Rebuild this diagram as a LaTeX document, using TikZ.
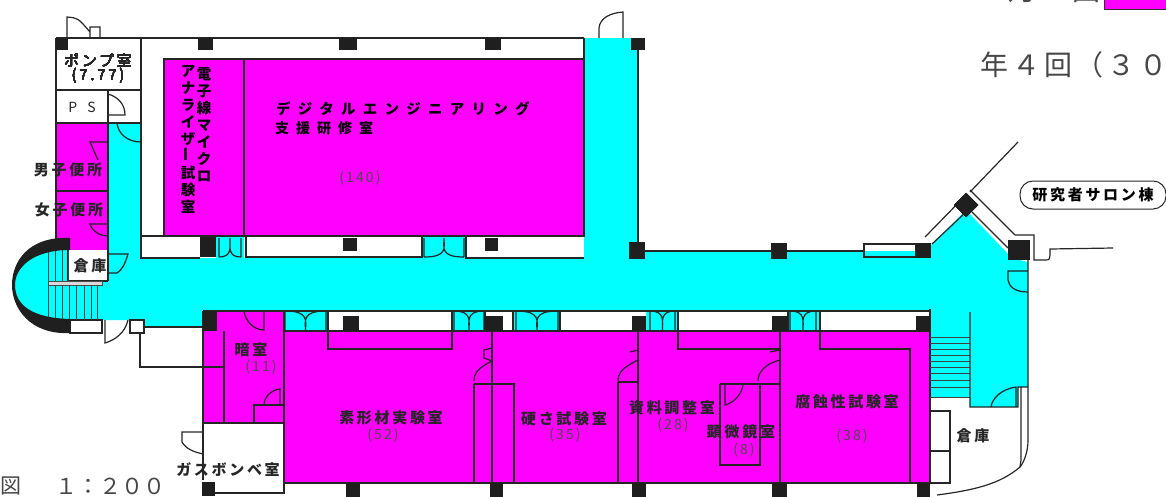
\documentclass[tikz,border=0pt]{standalone}
\usepackage{fontspec}
\setmainfont{Noto Sans CJK JP}
\newfontfamily\jpwide[LetterSpace=50]{Noto Sans CJK JP}
\newfontfamily\jpmid[LetterSpace=18]{Noto Sans CJK JP}
\newfontfamily\jpsemi[LetterSpace=15]{Noto Sans CJK JP}
\newfontfamily\jpkai[LetterSpace=14]{Noto Sans CJK JP}
\usetikzlibrary{calc}
\definecolor{kenshu}{RGB}{255,0,255}
\definecolor{rouka}{RGB}{0,255,255}
\tikzset{
    wall/.style={draw=black!85,line width=1.2pt},
    heya/.style={inner sep=0pt,font=\fontsize{15}{15}\selectfont\bfseries\jpmid,text=black!85},
    menseki/.style={inner sep=0pt,font=\fontsize{14}{15}\selectfont\jpsemi,text=black!70},
    tate/.style={inner sep=0pt,align=center,font=\fontsize{14.5}{17}\selectfont\bfseries},
    kaisu/.style={inner sep=0pt,anchor=west,font=\fontsize{28}{30}\selectfont\jpkai,text=black!72}
}
\NewDocumentCommand{\hashira}{m m m m}{ % x1, y1, x2, y2
    \fill[black!88] (#1,#2) rectangle (#3,#4);
}
\NewDocumentCommand{\ryobiraki}{m m m m}{ % x links, x rechts, y deur, y muur
    \coordinate (L) at (#1,#3);
    \coordinate (R) at (#2,#3);
    \coordinate (K) at ($(#1,#4)!.5!(#2,#4)$);
    \draw[wall] (L) -- (#1,#4)
        (R) -- (#2,#4)
        (L) .. controls ($(L)!.6!(R)$) and ($(K)!.5!(K|-L)$) .. (K)
        (R) .. controls ($(R)!.6!(L)$) and ($(K)!.5!(K|-R)$) .. (K);
}
\begin{document}
\begin{tikzpicture}[x=1pt,y=-1pt]
    \useasboundingbox (0,0) rectangle (1166,496);
    % corridor
    \fill[rouka] (108,123) -- (141,123) -- (141,258) -- (584,258) -- (584,38) -- (638,38)
        -- (638,251) -- (925,251) -- (966,210) -- (1012,258) -- (1028,262) -- (1028,387)
        -- (1018,387) -- (1018,407) -- (970,407) -- (970,397) -- (930,397) -- (930,331)
        -- (285,331) -- (285,311) -- (203,311) -- (203,327) -- (144,327) -- (144,320)
        -- (70,320) .. controls (30,320) and (14,305) .. (14,285)
        .. controls (14,265) and (30,250) .. (70,250) -- (108,250) -- cycle;
    \fill[rouka] (216,237) rectangle (244,258) (422,237) rectangle (466,258);
    % rooms
    \fill[kenshu] (56,123) rectangle (108,250);
    \fill[kenshu] (164,59) rectangle (584,236);
    \fill[kenshu] (203,311) rectangle (284,423);
    \fill[kenshu] (284,331) rectangle (930,483);
    \fill[white] (68,250) rectangle (108,281);
    \fill[white] (328,311) rectangle (452,331) (485,311) rectangle (513,331)
        (560,311) rectangle (646,331) (678,311) rectangle (788,331) (820,311) rectangle (930,331);
    % room walls
    \draw[wall] (56,38) -- (584,38) (56,38) -- (56,250) (141,38) -- (141,238)
        (56,90) -- (141,90) (56,123) -- (141,123) (108,90) -- (108,281) (56,191) -- (108,191);
    \draw[wall] (164,59) rectangle (584,236) (244,59) -- (244,236);
    \draw[wall] (141,236) -- (141,258) -- (200,258) (141,236) -- (584,236) -- (584,38);
    \draw[wall] (246,236) -- (246,257) -- (422,257) -- (422,237) (466,237) -- (466,258) -- (584,258);
    \draw[wall] (638,38) -- (638,251) -- (864,251) (864,244) rectangle (916,257);
    \draw[wall] (68,250) -- (68,281) -- (108,281);
    \draw[wall] (70,320) rectangle (102,333) (130,320) rectangle (144,333) (140,333) -- (140,367)
        -- (224,367) (144,327) -- (203,327);
    \draw[wall] (203,311) -- (203,480) (203,311) -- (284,311) -- (284,493) -- (215,493)
        (224,331) -- (224,423) (203,423) -- (284,423) (254,423) -- (254,405) -- (284,405);
    \draw[wall] (285,311) -- (930,311) (285,331) -- (930,331) (285,483) -- (930,483) (930,309) -- (930,483);
    \draw[wall] (328,311) -- (328,349) -- (452,349) -- (452,311) (485,311) -- (485,331)
        (513,311) -- (513,331) (560,311) -- (560,331) (678,311) -- (678,349) -- (780,349)
        (788,311) -- (788,331) (820,311) -- (820,349) -- (910,349) -- (910,483);
    \draw[wall] (492,316) -- (492,483) (638,316) -- (638,483) (780,316) -- (780,483)
        (474,384) -- (474,483) (474,384) -- (514,384) -- (514,483)
        (618,382) -- (618,483) (618,382) -- (638,382) (758,384) -- (780,384)
        (720,384) -- (760,384) (720,384) -- (720,465) -- (760,465) -- (760,384);
    % right wing
    \draw[wall] (925,237) -- (966,195) (932,244) -- (966,212) (970,192) -- (1018,142)
        (970,190) -- (1015,235) (972,212) -- (1008,248)
        (1015,235) -- (1034,235) -- (1034,260) -- (1045,260) .. controls (1050,260) .. (1050,249) -- (1113,248);
    \draw[wall] (1028,260) -- (1028,440) .. controls (1028,452) and (1024,462) .. (1020,467)
        .. controls (1000,484) and (975,490) .. (937,495);
    \draw[wall] (970,312) -- (970,407) -- (1018,407) -- (1018,387) -- (1028,387) (1021,387) -- (1021,460) -- (1020,467);
    \draw[wall] (930,411) rectangle (950,483) (930,451) -- (950,451);
    % stairs
    \foreach \y in {337,343,349,355,361,367,373,380,387,397}
        \draw[black!75,line width=.9pt] (930,\y) -- (970,\y);
    \foreach \x in {48,55,62,68}
        \draw[black!75,line width=.9pt] (\x,250) -- (\x,281);
    \draw[black!70,fill=black!15,line width=.6pt] (48,281) rectangle (102,285);
    \foreach \x in {48,55,62,69,76,84,91,97}
        \draw[black!75,line width=.9pt] (\x,285) -- (\x,320);
    \fill[black!88] (70,238) .. controls (28,236) and (12,262) .. (12,285)
        .. controls (12,308) and (30,335) .. (70,333) -- (70,319)
        .. controls (32,318) and (15,305) .. (15,285)
        .. controls (15,268) and (32,250) .. (70,250) -- cycle;
    % single doors
    \draw[wall] (67,38) -- (67,17) .. controls (78,18) .. (90,32) (90,38) -- (90,27) -- (100,27) -- (100,38);
    \draw[wall] (599,38) -- (599,28) .. controls (600,18) and (610,13) .. (623,12) -- (623,38);
    \draw[wall] (108,94) .. controls (118,97) and (125,104) .. (125,115) -- (108,115);
    \draw[wall] (117,123) .. controls (118,134) and (128,142) .. (141,142) -- (141,123);
    \draw[wall] (108,142) -- (90,142) -- (98,160);
    \draw[wall] (108,224) -- (90,224) .. controls (92,231) and (100,236) .. (108,236);
    \draw[wall] (108,254) -- (128,254) .. controls (125,264) and (122,270) .. (117,273) -- (108,273);
    \draw[wall] (105,320) -- (105,343) .. controls (115,340) and (125,333) .. (128,320);
    \draw[wall] (244,311) .. controls (245,320) and (253,330) .. (264,330) -- (264,311);
    \draw[wall] (264,405) .. controls (264,397) and (271,390) .. (280,389) -- (280,405);
    \draw[wall] (203,432) -- (182,432) -- (182,442) .. controls (186,449) and (194,452) .. (203,454);
    \draw[wall] (474,381) .. controls (474,372) and (480,367) .. (492,361) (492,348) -- (484,350) -- (484,358) -- (492,361);
    \draw[wall] (618,381) .. controls (618,372) and (624,367) .. (638,360) (638,350) -- (630,352);
    \draw[wall] (758,381) .. controls (758,372) and (765,364) .. (780,360) (780,350) -- (770,352);
    \draw[wall] (725,384) -- (725,405) .. controls (735,402) and (741,395) .. (743,385);
    \draw[wall] (1028,271) -- (1008,271) -- (1008,280) .. controls (1009,286) and (1014,292) .. (1028,292);
    \draw[wall] (991,407) .. controls (992,398) and (1002,389) .. (1016,387) -- (1016,407);
    \ryobiraki{285}{326}{311}{331}
    \ryobiraki{454}{484}{311}{331}
    \ryobiraki{516}{558}{311}{331}
    \ryobiraki{650}{675}{311}{331}
    \ryobiraki{790}{816}{311}{331}
    \ryobiraki{219}{241}{257}{238}
    \ryobiraki{424}{464}{257}{238}
    % pillars
    \foreach \x/\w in {56/12,198/15,339/18,485/16,631/14}
        \hashira{\x}{38}{\x+\w}{50}
    \foreach \x/\w in {343/14,485/13}
        \hashira{\x}{238}{\x+\w}{251}
    \hashira{200}{237}{216}{257}
    \hashira{629}{242}{645}{259}
    \hashira{771}{243}{787}{259}
    \hashira{916}{243}{931}{258}
    \hashira{1008}{240}{1030}{260}
    \fill[black!88] (966,193) -- (978,205) -- (966,217) -- (954,205) -- cycle;
    \foreach \x/\w in {343/16,484/19,632/14,772/16,916/14}
        \hashira{\x}{316}{\x+\w}{331}
    \hashira{202}{311}{217}{331}
    \foreach \x/\w in {346/14,490/13,632/14,772/15,917/13}
        \hashira{\x}{483}{\x+\w}{497}
    \hashira{202}{482}{215}{496}
    % labels
    \node[heya,font=\fontsize{15}{14}\selectfont\jpmid,align=center] (pomp) at (98,69) {ポンプ室\\(7.77)};
    \node[heya,font=\fontsize{14}{15}\selectfont\jpwide] (ps) at (82,107) {P S};
    \node[heya] (danshi) at (68,170) {男子便所};
    \node[heya] (joshi) at (69,210) {女子便所};
    \node[heya] (soko) at (90,266) {倉庫};
    \node[tate,anchor=north] (denshi) at (204,67) {電\\子\\線\\マ\\イ\\ク\\ロ};
    \node[tate,anchor=north] (analyzer) at (188,65) {ア\\ナ\\ラ\\イ\\ザ\\\rotatebox{90}{ー}\\試\\験\\室};
    \node[inner sep=0pt,anchor=west,font=\fontsize{14.5}{16}\selectfont\bfseries\jpwide] (digital) at (276,109) {デジタルエンジニアリング};
    \node[inner sep=0pt,anchor=west,font=\fontsize{14}{16}\selectfont\bfseries\jpwide] (shien) at (275,128) {支援研修室};
    \node[menseki] (m140) at (360,178) {(140)};
    \node[heya] (anshitsu) at (251,350) {暗室};
    \node[menseki] (m11) at (261,367) {(11)};
    \node[heya] (gas) at (228,470) {ガスボンベ室};
    \node[heya] (sokei) at (391,418) {素形材実験室};
    \node[menseki] (m52) at (383,435) {(52)};
    \node[heya] (kosa) at (564,419) {硬さ試験室};
    \node[menseki] (m35) at (565,435) {(35)};
    \node[heya] (shiryo) at (672,408) {資料調整室};
    \node[menseki] (m28) at (673,425) {(28)};
    \node[heya] (kenbi) at (741,432) {顕微鏡室};
    \node[menseki] (m8) at (744,450) {(8)};
    \node[heya] (fushoku) at (847,402) {腐蝕性試験室};
    \node[menseki] (m38) at (852,436) {(38)};
    \node[heya] (soko2) at (973,436) {倉庫};
    \node[draw=black!85,line width=1pt,rounded corners=13pt,minimum width=146pt,minimum height=28pt,
        inner sep=0pt,font=\fontsize{15}{15}\selectfont\bfseries\jpmid] (salon) at (1093,195) {研究者サロン棟};
    \node[kaisu] (kai) at (980,65) {年４回（３０};
    \node[kaisu] (tsuki) at (1008,-10) {月１回};
    \fill[kenshu,draw=black!80] (1104,-3) rectangle (1170,9);
    \node[inner sep=0pt,anchor=west,font=\fontsize{21}{22}\selectfont,text=black!72] (zu) at (0,486) {図};
    \node[inner sep=0pt,anchor=west,font=\fontsize{22}{22}\selectfont,text=black!72] (shuku) at (55,486) {１：２００};
\end{tikzpicture}
\end{document}
